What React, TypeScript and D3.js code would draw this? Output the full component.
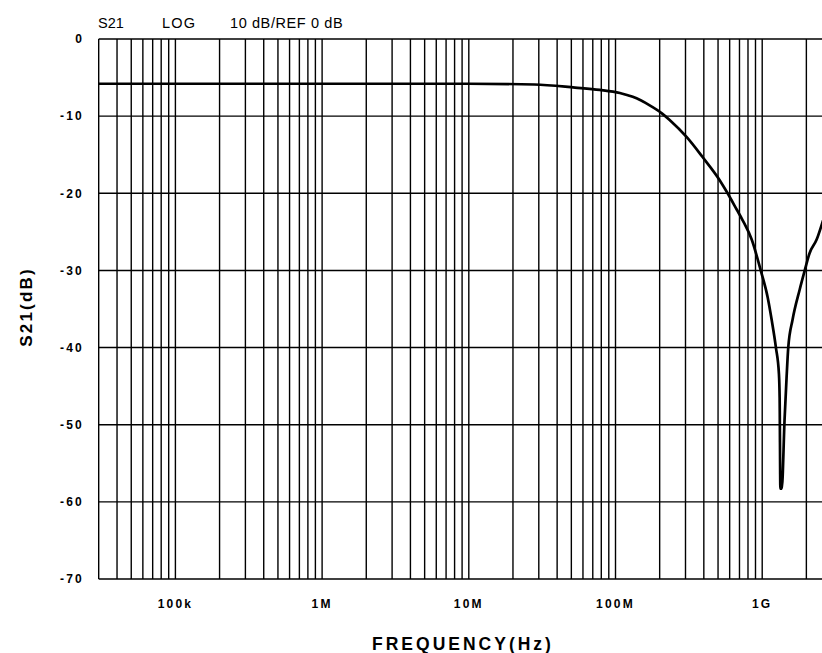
import React from "react";
import * as d3 from "d3";

const freqHz = [3e4, 1e5, 1e6, 1e7, 2.8e7, 5.3e7, 7.8e7, 1.07e8, 1.31e8, 1.71e8, 2.06e8, 2.34e8, 3.05e8, 3.92e8, 5.13e8, 5.73e8, 6.7e8, 7.36e8, 8.48e8, 9.77e8, 1.09e9, 1.16e9, 1.24e9, 1.3e9, 1.315e9, 1.33e9, 1.36e9, 1.42e9, 1.465e9, 1.505e9, 1.61e9, 1.8e9, 1.95e9, 2.1e9, 2.35e9, 2.6e9];
const s21dB = [-5.8, -5.8, -5.8, -5.8, -5.9, -6.3, -6.6, -7.0, -7.5, -8.6, -9.6, -10.5, -12.7, -15.3, -18.3, -19.8, -22.1, -23.5, -26, -30, -33.5, -36.4, -40, -43.4, -46.6, -58.3, -58.3, -49.4, -44, -40, -36.4, -32.5, -30, -27.8, -26, -23.5];

const yTicks = [0, -10, -20, -30, -40, -50, -60, -70];
const yTickLabels = ["0", "-10", "-20", "-30", "-40", "-50", "-60", "-70"];
const xTicks = [1e5, 1e6, 1e7, 1e8, 1e9];
const xTickLabels = ["100k", "1M", "10M", "100M", "1G"];

export default function App() {
  const left = 98.7;
  const decade = 146.7;
  const xMin = 3e4;
  const xMax = 2.6e9;
  const right = left + decade * Math.log10(xMax / xMin);
  const top = 39;
  const bottom = 579;

  const x = d3.scaleLog().domain([xMin, xMax]).range([left, right]);
  const y = d3.scaleLinear().domain([0, -70]).range([top, bottom]);

  const vLines: number[] = [];
  for (let e = 4; e <= 9; e++) {
    for (let m = 1; m <= 9; m++) {
      const f = m * Math.pow(10, e);
      if (f > xMin * 1.001 && f < xMax) vLines.push(f);
    }
  }

  const line = d3
    .line<number>()
    .x((_, i) => x(freqHz[i]))
    .y((d) => y(d))
    .curve(d3.curveMonotoneX);

  const font = "'Liberation Sans', Arial, sans-serif";

  return (
    <svg width={822} height={653} style={{ position: "absolute", left: 0, top: 0, background: "#fff" }}>
      <rect x={0} y={0} width={822} height={653} fill="#fff" />
      {yTicks.map((t) => (
        <line key={"h" + t} x1={left} x2={right} y1={y(t)} y2={y(t)} stroke="#000" strokeWidth={1.4} />
      ))}
      {vLines.map((f) => (
        <line key={"v" + f} x1={x(f)} x2={x(f)} y1={top} y2={bottom} stroke="#000" strokeWidth={1.4} />
      ))}
      <line x1={left} x2={left} y1={top} y2={bottom} stroke="#000" strokeWidth={1.4} />
      <path d={line(s21dB) || ""} fill="none" stroke="#000" strokeWidth={2.7} strokeLinejoin="round" />

      {yTicks.map((t, i) => (
        <text key={"yl" + t} x={84} y={y(t)} dy="0.36em" textAnchor="end" fontFamily={font} fontWeight="bold" fontSize={12} letterSpacing={2.2}>
          {yTickLabels[i]}
        </text>
      ))}
      {xTicks.map((t, i) => (
        <text key={"xl" + t} x={x(t)} y={608} textAnchor="middle" fontFamily={font} fontWeight="bold" fontSize={12} letterSpacing={2.2}>
          {xTickLabels[i]}
        </text>
      ))}

      <text x={98} y={28} fontFamily={font} fontSize={14.5}>S21</text>
      <text x={162} y={28} fontFamily={font} fontSize={14.5} letterSpacing={1.2}>LOG</text>
      <text x={230} y={28} fontFamily={font} fontSize={14.5} letterSpacing={0.6}>10 dB/REF 0 dB</text>

      <text x={463} y={650} textAnchor="middle" fontFamily={font} fontWeight="bold" fontSize={17.5} letterSpacing={3}>
        FREQUENCY(Hz)
      </text>
      <text transform="translate(32,307) rotate(-90)" textAnchor="middle" fontFamily={font} fontWeight="bold" fontSize={17} letterSpacing={2.2}>
        S21(dB)
      </text>
    </svg>
  );
}
